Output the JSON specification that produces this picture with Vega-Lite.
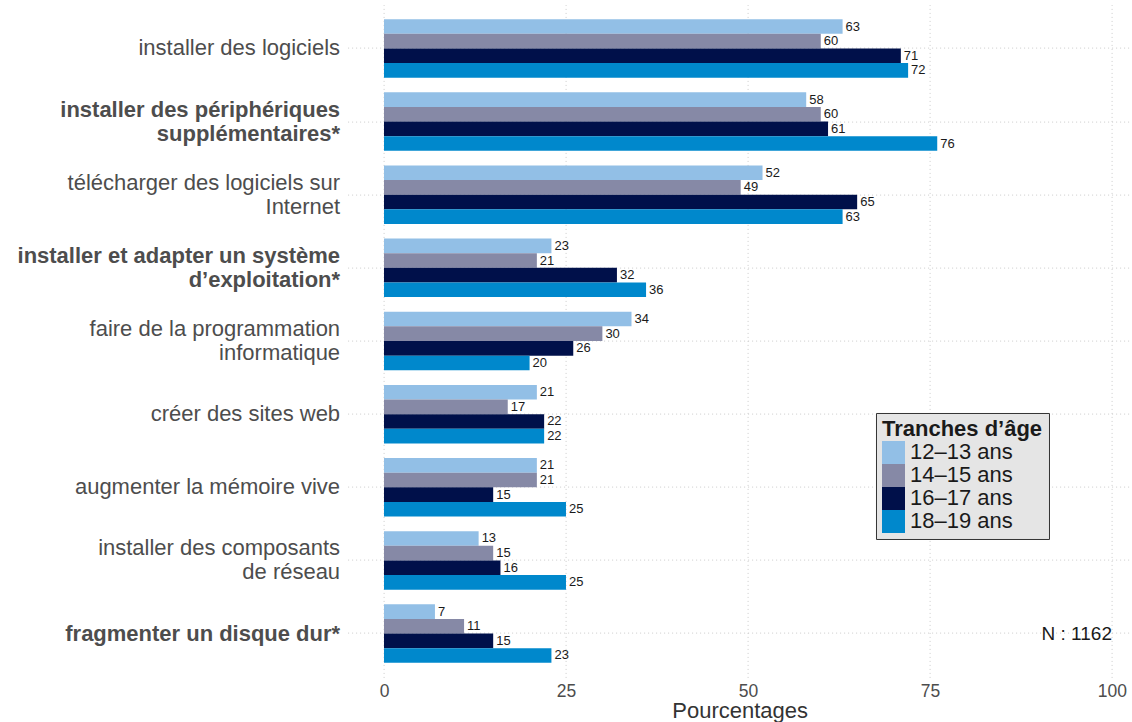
{
  "$schema": "https://vega.github.io/schema/vega-lite/v6.json",
  "width": 784,
  "height": 672.8,
  "autosize": "none",
  "padding": {"left": 347.6, "top": 4.6, "right": 0, "bottom": 44.6},
  "background": "white",
  "config": {"font": "Liberation Sans", "view": {"stroke": null}},
  "data": {
    "values": [
      {"cat": "installer des logiciels", "age": "12–13 ans", "pct": 63},
      {"cat": "installer des logiciels", "age": "14–15 ans", "pct": 60},
      {"cat": "installer des logiciels", "age": "16–17 ans", "pct": 71},
      {"cat": "installer des logiciels", "age": "18–19 ans", "pct": 72},
      {"cat": "installer des périphériques|supplémentaires*", "age": "12–13 ans", "pct": 58},
      {"cat": "installer des périphériques|supplémentaires*", "age": "14–15 ans", "pct": 60},
      {"cat": "installer des périphériques|supplémentaires*", "age": "16–17 ans", "pct": 61},
      {"cat": "installer des périphériques|supplémentaires*", "age": "18–19 ans", "pct": 76},
      {"cat": "télécharger des logiciels sur|Internet", "age": "12–13 ans", "pct": 52},
      {"cat": "télécharger des logiciels sur|Internet", "age": "14–15 ans", "pct": 49},
      {"cat": "télécharger des logiciels sur|Internet", "age": "16–17 ans", "pct": 65},
      {"cat": "télécharger des logiciels sur|Internet", "age": "18–19 ans", "pct": 63},
      {"cat": "installer et adapter un système|d’exploitation*", "age": "12–13 ans", "pct": 23},
      {"cat": "installer et adapter un système|d’exploitation*", "age": "14–15 ans", "pct": 21},
      {"cat": "installer et adapter un système|d’exploitation*", "age": "16–17 ans", "pct": 32},
      {"cat": "installer et adapter un système|d’exploitation*", "age": "18–19 ans", "pct": 36},
      {"cat": "faire de la programmation|informatique", "age": "12–13 ans", "pct": 34},
      {"cat": "faire de la programmation|informatique", "age": "14–15 ans", "pct": 30},
      {"cat": "faire de la programmation|informatique", "age": "16–17 ans", "pct": 26},
      {"cat": "faire de la programmation|informatique", "age": "18–19 ans", "pct": 20},
      {"cat": "créer des sites web", "age": "12–13 ans", "pct": 21},
      {"cat": "créer des sites web", "age": "14–15 ans", "pct": 17},
      {"cat": "créer des sites web", "age": "16–17 ans", "pct": 22},
      {"cat": "créer des sites web", "age": "18–19 ans", "pct": 22},
      {"cat": "augmenter la mémoire vive", "age": "12–13 ans", "pct": 21},
      {"cat": "augmenter la mémoire vive", "age": "14–15 ans", "pct": 21},
      {"cat": "augmenter la mémoire vive", "age": "16–17 ans", "pct": 15},
      {"cat": "augmenter la mémoire vive", "age": "18–19 ans", "pct": 25},
      {"cat": "installer des composants|de réseau", "age": "12–13 ans", "pct": 13},
      {"cat": "installer des composants|de réseau", "age": "14–15 ans", "pct": 15},
      {"cat": "installer des composants|de réseau", "age": "16–17 ans", "pct": 16},
      {"cat": "installer des composants|de réseau", "age": "18–19 ans", "pct": 25},
      {"cat": "fragmenter un disque dur*", "age": "12–13 ans", "pct": 7},
      {"cat": "fragmenter un disque dur*", "age": "14–15 ans", "pct": 11},
      {"cat": "fragmenter un disque dur*", "age": "16–17 ans", "pct": 15},
      {"cat": "fragmenter un disque dur*", "age": "18–19 ans", "pct": 23}
    ]
  },
  "encoding": {
    "y": {
      "field": "cat",
      "type": "nominal",
      "sort": null,
      "scale": {"paddingInner": 0.2, "paddingOuter": 0.2},
      "axis": {
        "title": null,
        "domain": false,
        "ticks": false,
        "grid": true,
        "bandPosition": 0.5,
        "gridColor": "#cccccc",
        "gridDash": [1, 3],
        "gridWidth": 1,
        "labelExpr": "split(datum.label, '|')",
        "labelFontSize": 22,
        "labelLineHeight": 24,
        "labelColor": "#4d4d4d",
        "labelPadding": 8,
        "labelLimit": 400,
        "labelOffset": {"condition": {"test": "indexof(datum.value, '|') >= 0", "value": -12}, "value": 0},
        "labelFontWeight": {"condition": {"test": "indexof(datum.value, '*') >= 0", "value": "bold"}, "value": "normal"}
      }
    },
    "x": {
      "field": "pct",
      "type": "quantitative",
      "scale": {"domain": [-5, 102.7], "nice": false, "zero": false},
      "axis": {
        "title": "Pourcentages",
        "values": [0, 25, 50, 75, 100],
        "domain": false,
        "ticks": false,
        "grid": true,
        "gridColor": "#cccccc",
        "gridDash": [1, 3],
        "gridWidth": 1,
        "labelFontSize": 17.5,
        "labelColor": "#4d4d4d",
        "labelPadding": 5,
        "titleFontSize": 22,
        "titleFontWeight": "normal",
        "titleColor": "#333333",
        "titlePadding": 1
      }
    }
  },
  "layer": [
    {
      "mark": {"type": "bar"},
      "encoding": {
        "x": {"field": "pct", "type": "quantitative"},
        "x2": {"datum": 0},
        "yOffset": {"field": "age", "type": "nominal", "scale": {"paddingInner": 0, "paddingOuter": 0}},
        "color": {
          "field": "age",
          "type": "nominal",
          "scale": {
            "domain": ["12–13 ans", "14–15 ans", "16–17 ans", "18–19 ans"],
            "range": ["#92bfe6", "#8689a6", "#00104a", "#0088cc"]
          },
          "legend": {
            "orient": "none",
            "legendX": 528.4,
            "legendY": 408.4,
            "title": "Tranches d’âge",
            "titleFontSize": 22,
            "titleFontWeight": "bold",
            "titleColor": "#1a1a1a",
            "titlePadding": 0,
            "labelFontSize": 22,
            "labelColor": "#1a1a1a",
            "labelOffset": 5,
            "symbolType": "square",
            "symbolSize": 529,
            "symbolStrokeWidth": 0,
            "symbolOpacity": 1,
            "rowPadding": 0,
            "padding": 6,
            "fillColor": "#e5e5e5",
            "strokeColor": "#333333"
          }
        }
      }
    },
    {
      "mark": {"type": "text", "align": "left", "baseline": "middle", "dx": 3, "fontSize": 13, "color": "#1a1a1a"},
      "encoding": {
        "yOffset": {"field": "age", "type": "nominal", "scale": {"paddingInner": 0, "paddingOuter": 0}},
        "text": {"field": "pct", "type": "quantitative"}
      }
    },
    {
      "transform": [{"filter": "datum.age == '18–19 ans' && datum.cat == 'fragmenter un disque dur*'"}],
      "mark": {"type": "text", "align": "right", "baseline": "middle", "fontSize": 19, "color": "#1a1a1a"},
      "encoding": {
        "x": {"datum": 100},
        "text": {"value": "N : 1162"}
      }
    }
  ]
}
